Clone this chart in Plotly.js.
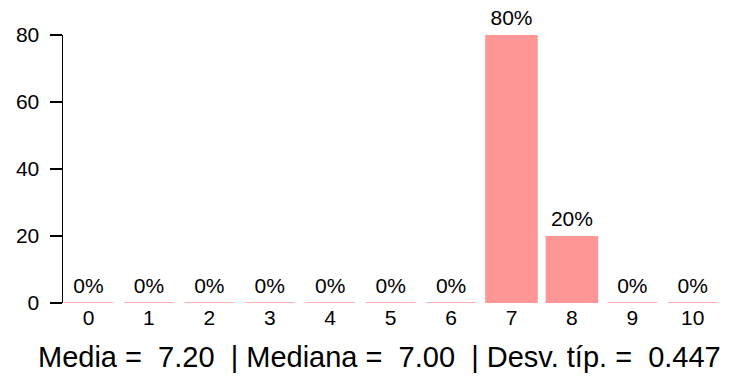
<!DOCTYPE html>
<html><head><meta charset="utf-8">
<script src="https://cdn.plot.ly/plotly-3.0.1.min.js"></script>
<style>html,body{margin:0;padding:0;background:#fff}#c{width:747px;height:383px}</style>
</head><body><div id="c"></div>
<script>
const categories = ["0","1","2","3","4","5","6","7","8","9","10"];
const percents = [0,0,0,0,0,0,0,80,20,0,0];
const yTicks = [0,20,40,60,80];
const summaryText = "Media =  7.20  | Mediana =  7.00  | Desv. típ. =  0.447";

const xs = categories.map((c,i)=>i);
const barW = 0.87, lineHalf = 0.41;
const zx = [], zy = [];
percents.forEach((v,i)=>{ if(v===0){ zx.push(i-lineHalf, i+lineHalf, null); zy.push(0,0,null);} });

const FONT = 'Liberation Sans, Arial, sans-serif';
const traces = [
  {type:'bar', x: xs, y: percents, width: barW, marker:{color:'#ff9696', line:{width:0}}, hoverinfo:'skip', cliponaxis:false},
  {type:'scatter', mode:'lines', x: zx, y: zy, line:{color:'#ffb0b0', width:2}, hoverinfo:'skip', cliponaxis:false},
  {type:'scatter', mode:'markers+text', x: xs, y: percents, text: percents.map(v=>v+'%'), textposition:'top center',
   marker:{size:6, opacity:0},
   textfont:{family:FONT, size:21, color:'#000'}, cliponaxis:false, hoverinfo:'skip'}
];
const layout = {
  width:747, height:383,
  margin:{l:63, r:24, t:35, b:80},
  paper_bgcolor:'#fff', plot_bgcolor:'#fff',
  showlegend:false,
  font:{family:FONT, size:21, color:'#000'},
  xaxis:{range:[-0.422,10.5], tickvals: xs, ticktext: categories, showgrid:false, zeroline:false, showline:false, ticks:'', tickfont:{size:21}, ticklabelstandoff:0},
  yaxis:{range:[0,80], tickvals: yTicks, showgrid:false, zeroline:false, showline:true, linecolor:'#000', linewidth:1.5,
         ticks:'outside', ticklen:12, tickwidth:1.5, tickcolor:'#000', tickfont:{size:21}, ticklabelstandoff:6},
  annotations:[{text: summaryText, xref:'paper', yref:'paper', x:0.48, y:-0.2015, xanchor:'center', yanchor:'middle', showarrow:false,
                font:{family:FONT, size:29, color:'#000'}}]
};
Plotly.newPlot('c', traces, layout, {staticPlot:true});
</script></body></html>
